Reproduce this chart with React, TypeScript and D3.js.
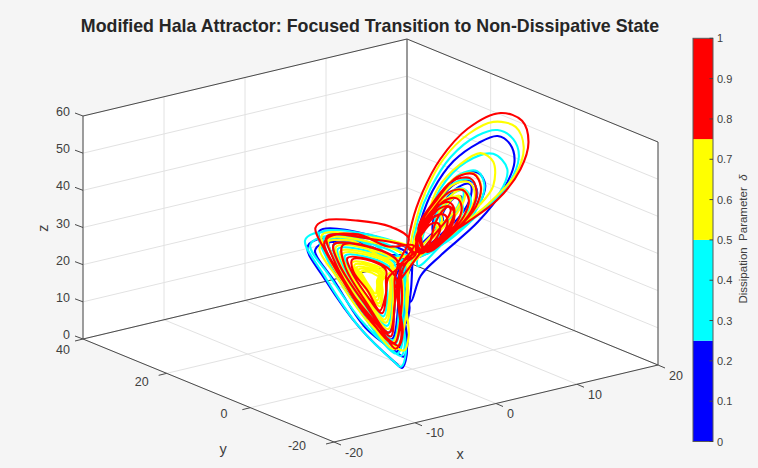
import React from "react";
import * as d3 from "d3";

type P3 = [number, number, number];

const xTicks = [-20, -10, 0, 10, 20];
const yTicks = [-20, 0, 20, 40];
const zTicks = [0, 10, 20, 30, 40, 50, 60];
const barTicks = [0, 0.1, 0.2, 0.3, 0.4, 0.5, 0.6, 0.7, 0.8, 0.9, 1];
const barBands = [0, 0.25, 0.5, 0.75, 1];
const bandColors = ["#0000ff", "#00ffff", "#ffff00", "#ff0000"];

// one stretch of the trajectory per colour
const blueTrace: P3[] = [
  [-1, -0.5, 13], [-0.6, -0.3, 18], [-1, -0.5, 21], [-0.5, -0.3, 17], [-0.8, -0.4, 14], [-0.2, -0.1, 22],
  [0.2, 0.1, 31.5], [1.4, 0.7, 38.9], [3.4, 1.7, 45.5], [6.9, 3.5, 50.8], [11, 5.5, 52.6], [14.2, 7.1, 52.1], [16.3, 8.2, 48.3], [17, 8.5, 43], [15.2, 7.6, 37.1], [10.9, 5.4, 31.5], [4.7, 2.4, 27], [1.4, 0.7, 24.1], [-0.3, -0.2, 18.4], [-1, -0.5, 22], [-1.6, -0.8, 28],
  [-4, -2, 33.5], [-10, -5, 42], [-16, -8, 46.8], [-17.5, -8.8, 45.8], [-14.5, -7.2, 35], [-8.7, -4.4, 17.5], [-2.8, -1.4, 3.8], [-1.7, -0.8, 1.6], [-0.9, -0.4, 4.5], [-1.3, -0.6, 15], [-0.9, -0.4, 25], [0.2, 0.1, 30],
  [-4.2, -2.1, 34], [-9.6, -4.8, 41], [-15, -7.5, 45], [-16.2, -8.1, 44], [-13, -6.5, 33.5], [-7.8, -3.9, 17], [-2.6, -1.3, 6.5], [-1.5, -0.8, 4.5], [-0.8, -0.4, 7.5], [-1.4, -0.7, 16.5], [-0.8, -0.4, 26], [0.4, 0.2, 30.5],
  [-7.5, -3.8, 41.9], [-15.5, -7.8, 48.8], [-14.3, -7.2, 41.1], [-8.8, -4.4, 23], [-2.7, -1.4, 6.7], [-1.4, -0.7, 15.7], [-1.4, -0.7, 25.5], [-0.9, -0.4, 31.9],
  [-7.4, -3.7, 39.5], [-13.9, -7, 45.2], [-12.9, -6.4, 38.9], [-8.4, -4.2, 24], [-3.5, -1.8, 10.7], [-2.4, -1.2, 18.1], [-2.4, -1.2, 26.1], [-0.5, -0.2, 30.5],
  [5.1, 2.6, 36], [5, 2.5, 37.8], [5.9, 3, 39.7], [7.1, 3.6, 40.8], [8.1, 4, 40.4], [8.2, 4.1, 38.7], [7.3, 3.6, 36.8], [6.1, 3, 35.7],
  [3.6, 1.8, 33.7], [3.5, 1.8, 37.2], [5.2, 2.6, 41.1], [7.7, 3.8, 43.3], [9.6, 4.8, 42.6], [9.7, 4.8, 39.3], [8, 4, 35.3], [5.5, 2.8, 33.1],
  [0.2, 0.1, 30.5], [1.3, 0.6, 36.9], [4, 2, 41.5], [7, 3.5, 44.5], [9.8, 4.9, 43.3], [10.8, 5.4, 39.5], [9.9, 5, 35.4], [7, 3.5, 31.6], [2.7, 1.4, 29.6],
  [0.2, 0.1, 30], [1.6, 0.8, 37.6], [4.5, 2.2, 42.7], [7.9, 4, 46.1], [10.9, 5.4, 44.7], [12.1, 6, 40.5], [11.1, 5.6, 35.9], [7.7, 3.8, 31.6], [3, 1.5, 29.4],
  [0.6, 0.3, 29.5], [-1.9, -1, 31.3], [-7.3, -3.6, 38.4], [-13.1, -6.6, 43.4], [-12.3, -6.2, 37.8], [-8.3, -4.2, 24.6], [-3.9, -2, 12.8], [-2.9, -1.4, 19.3], [-2.9, -1.4, 26.4],
  [-1, -0.5, 30], [0.5, 0.2, 30],
];

const cyanTrace: P3[] = [
  [0.5, 0.2, 30], [-2.4, -1.2, 31], [-6.1, -3, 37.8], [-10.7, -5.4, 44], [-16.4, -8.2, 48.8], [-17.9, -9, 48], [-14.7, -7.4, 36.2], [-9.1, -4.6, 18.6], [-3.1, -1.6, 4.4], [-1.9, -1, 2.1], [-1.1, -0.6, 5.5], [-1.6, -0.8, 15.6], [-1.1, -0.6, 25.2], [0, 0, 30.6],
  [-3.5, -1.8, 33], [-10.2, -5.1, 43], [-15.5, -7.8, 47], [-17, -8.5, 46], [-13.8, -6.9, 35.5], [-8.5, -4.2, 19.5], [-3.3, -1.6, 7.5], [-1.9, -1, 5], [-1.2, -0.6, 8], [-1.7, -0.8, 17], [-1, -0.5, 26], [0.2, 0.1, 31],
  [-7.5, -3.8, 41.9], [-15.5, -7.8, 48.2], [-14.3, -7.2, 40.6], [-8.8, -4.4, 22.4], [-2.5, -1.2, 6], [-1.2, -0.6, 15.2], [-1.4, -0.7, 25.5], [-1.4, -0.7, 31.6],
  [-7.4, -3.7, 40.7], [-14.7, -7.4, 46.4], [-13.6, -6.8, 39.6], [-8.6, -4.3, 23], [-3.1, -1.6, 8.7], [-1.9, -1, 16.9], [-1.9, -1, 25.8], [-1.9, -1, 31.3],
  [-7.4, -3.7, 39.5], [-13.9, -7, 45.2], [-12.9, -6.4, 38.9], [-8.4, -4.2, 24], [-3.2, -1.6, 10.2], [-2.2, -1.1, 18.1], [-2.2, -1.1, 26.1], [0, 0, 31],
  [0, 0, 32.4], [1, 0.5, 39.7], [3, 1.5, 46.3], [6.4, 3.2, 52.3], [10.8, 5.4, 54.7], [14.2, 7.1, 53.7], [16.8, 8.4, 49.3], [17.7, 8.8, 43.9], [15.8, 7.9, 37.5], [11.3, 5.6, 33.8], [5.9, 3, 30.6], [0.9, 0.4, 27.1],
  [1.9, 1, 35], [4.7, 2.4, 45], [8.9, 4.4, 49.1], [13.5, 6.8, 47.8], [15.8, 7.9, 42], [14.6, 7.3, 36.7], [10.5, 5.2, 33.1], [4.7, 2.4, 30.2],
  [4.6, 2.3, 36.2], [4.6, 2.3, 38], [5.5, 2.8, 39.9], [6.7, 3.4, 41], [7.7, 3.8, 40.7], [7.8, 3.9, 39], [6.9, 3.4, 37.1], [5.7, 2.8, 36],
  [3.8, 1.9, 35.2], [3.8, 1.9, 37.7], [5, 2.5, 40.6], [6.9, 3.4, 42.3], [8.4, 4.2, 41.8], [8.4, 4.2, 39.3], [7.2, 3.6, 36.4], [5.3, 2.6, 34.7],
  [0, 0, 30.5], [1, 0.5, 36], [3, 1.5, 39], [5.5, 2.8, 41.4], [7.6, 3.8, 40.4], [8.4, 4.2, 37.5], [7.8, 3.9, 34], [5.5, 2.8, 31.2], [2.1, 1, 29.8],
  [0.2, 0.1, 30.5], [1.3, 0.6, 36.4], [3.6, 1.8, 40.3], [6.2, 3.1, 43], [8.7, 4.4, 41.9], [9.7, 4.8, 38.5], [8.9, 4.4, 34.4], [6.2, 3.1, 31.3], [2.4, 1.2, 29.7],
  [0.1, 0, 30.5], [1.1, 0.6, 37.2], [3.9, 2, 41.9], [6.9, 3.4, 44.9], [9.7, 4.8, 43.8], [10.7, 5.4, 39.9], [9.9, 5, 35.2], [7, 3.5, 31.4], [2.8, 1.4, 29.7],
  [0, 0, 30.5], [1.5, 0.8, 37.8], [4.4, 2.2, 43], [7.8, 3.9, 46.5], [10.8, 5.4, 45.2], [12, 6, 40.6], [11, 5.5, 35.6], [7.6, 3.8, 31.4], [3, 1.5, 29.2],
  [0.4, 0.2, 29.6], [-2.5, -1.2, 31.1], [-7.3, -3.6, 38.4], [-13.1, -6.6, 43.4], [-12.3, -6.2, 37.8], [-8.3, -4.2, 24.6], [-3.9, -2, 12.8], [-2.9, -1.4, 19.3], [-2.9, -1.4, 26.4],
  [-3, -1.5, 30.8], [-7.3, -3.6, 37.2], [-12.4, -6.2, 41.6], [-11.6, -5.8, 36.7], [-8.1, -4, 25.1], [-4.2, -2.1, 14.8], [-3.4, -1.7, 20.5], [-3.4, -1.7, 26.8],
  [-3.9, -2, 30.4], [-7.2, -3.6, 35.4], [-11.2, -5.6, 38.9], [-10.6, -5.3, 35], [-7.8, -3.9, 26], [-4.8, -2.4, 17.8], [-4.1, -2, 22.3], [-4.1, -2, 27.2],
  [-1.5, -0.8, 30], [0.5, 0.2, 31],
];

const yellowTrace: P3[] = [
  [0.5, 0.2, 31], [-0.3, -0.2, 31.9], [0.5, 0.2, 39.3], [2.2, 1.1, 46.1], [5.2, 2.6, 52.7], [9.4, 4.7, 56.3], [13.5, 6.8, 56.4], [17.2, 8.6, 52.3], [18.5, 9.2, 45.9], [17.2, 8.6, 39.6], [12.7, 6.4, 35], [7.7, 3.8, 32.5], [3, 1.5, 30.7], [-0.6, -0.3, 28.3],
  [1.4, 0.7, 34.1], [4.2, 2.1, 45.4], [8, 4, 49.2], [11.3, 5.6, 49.7], [13.5, 6.8, 45.7], [13.5, 6.8, 39.2], [11.3, 5.6, 36], [6.4, 3.2, 32.9], [2.2, 1.1, 30.7],
  [-4.2, -2.1, 33], [-10, -5, 42], [-14.5, -7.2, 45], [-15.5, -7.8, 44], [-12.5, -6.2, 34], [-7.5, -3.8, 18.5], [-2.5, -1.2, 7.5], [-1.3, -0.6, 6], [-0.6, -0.3, 9.5], [-1, -0.5, 18], [-0.6, -0.3, 27], [0.5, 0.2, 31.5],
  [-7.5, -3.8, 41.3], [-15, -7.5, 47.4], [-13.9, -7, 40.2], [-8.7, -4.4, 23.2], [-2.9, -1.4, 7.5], [-1, -0.5, 15.2], [-0.8, -0.4, 25.5], [-1.4, -0.7, 31.6],
  [-7.4, -3.7, 39.9], [-14, -7, 45.5], [-13, -6.5, 39.2], [-8.4, -4.2, 23.8], [-3.3, -1.6, 9.7], [-1.7, -0.8, 17.4], [-1.7, -0.8, 26], [-2.7, -1.4, 31],
  [-7.3, -3.6, 37.8], [-12.7, -6.4, 42.5], [-12, -6, 37.2], [-8.2, -4.1, 24.8], [-4, -2, 13.8], [-3.2, -1.6, 19.9], [-3.2, -1.6, 26.6], [-3.3, -1.6, 30.7],
  [-7.2, -3.6, 36.6], [-12, -6, 40.7], [-11.2, -5.6, 36.1], [-8, -4, 25.4], [-4.4, -2.2, 15.8], [-3.6, -1.8, 21.1], [-3.6, -1.8, 27], [-3.6, -1.8, 30.6],
  [-7.2, -3.6, 36], [-11.6, -5.8, 39.8], [-10.9, -5.4, 35.6], [-7.9, -4, 25.7], [-4.6, -2.3, 16.8], [-3.9, -2, 21.7], [-3.9, -2, 27.1],
  [-5.8, -2.9, 29.5], [-7, -3.5, 31.3], [-8.5, -4.2, 32.6], [-8.2, -4.1, 31.2], [-7.2, -3.6, 27.9], [-6.1, -3, 24.9], [-5.9, -3, 26.6], [-5.9, -3, 28.4],
  [-5.5, -2.8, 29.6], [-7, -3.5, 31.9], [-8.9, -4.4, 33.5], [-8.6, -4.3, 31.8], [-7.3, -3.6, 27.6], [-6, -3, 23.9], [-5.6, -2.8, 26], [-5.6, -2.8, 28.2],
  [-5.2, -2.6, 29.8], [-7.1, -3.6, 32.5], [-9.2, -4.6, 34.4], [-8.9, -4.4, 32.3], [-7.4, -3.7, 27.3], [-5.8, -2.9, 22.9], [-5.4, -2.7, 25.4], [-5.4, -2.7, 28],
  [-5, -2.5, 29.9], [-7.1, -3.6, 33.1], [-9.6, -4.8, 35.3], [-9.2, -4.6, 32.9], [-7.5, -3.8, 27], [-5.6, -2.8, 21.9], [-5.1, -2.6, 24.8], [-5.1, -2.6, 27.8],
  [-4.7, -2.4, 30], [-7.1, -3.6, 33.7], [-10, -5, 36.2], [-9.6, -4.8, 33.4], [-7.6, -3.8, 26.8], [-5.4, -2.7, 20.9], [-4.9, -2.4, 24.2], [-4.9, -2.4, 27.7],
  [-0.6, -0.3, 30.2],
  [4.9, 2.4, 36.3], [4.8, 2.4, 38], [5.7, 2.8, 39.9], [6.9, 3.4, 41], [7.9, 4, 40.7], [8, 4, 39], [7.1, 3.6, 37.1], [5.9, 3, 36],
  [4.1, 2, 35.2], [4.1, 2, 37.7], [5.3, 2.6, 40.6], [7.2, 3.6, 42.3], [8.7, 4.4, 41.8], [8.7, 4.4, 39.3], [7.5, 3.8, 36.4], [5.6, 2.8, 34.7],
  [0.2, 0.1, 30.5], [0.9, 0.4, 34.8], [2.5, 1.2, 37.8], [4.5, 2.2, 39.9], [6.3, 3.2, 39], [7, 3.5, 36.5], [6.5, 3.2, 33.7], [4.5, 2.2, 31.5], [1.8, 0.9, 30.3],
  [0.2, 0.1, 30.5], [1.2, 0.6, 36], [3.1, 1.6, 39.2], [5.4, 2.7, 41.6], [7.5, 3.8, 40.6], [8.3, 4.2, 37.5], [7.7, 3.8, 34.3], [5.4, 2.7, 31.6], [2.1, 1, 30.2],
  [0, 0, 30.5], [1.2, 0.6, 36.2], [3.5, 1.8, 40.3], [6.1, 3, 43], [8.5, 4.2, 41.9], [9.5, 4.8, 38.5], [8.7, 4.4, 34.8], [6.1, 3, 31.8], [2.4, 1.2, 30.2],
  [-0.1, 0, 30.5], [1.2, 0.6, 36.9], [3.7, 1.8, 41.5], [6.7, 3.4, 44.5], [9.4, 4.7, 43.3], [10.4, 5.2, 39.5], [9.6, 4.8, 35.4], [6.7, 3.4, 31.9], [2.7, 1.4, 30.1],
  [0, 0, 30.5], [1.2, 0.6, 37.6], [4, 2, 42.9], [7.3, 3.6, 46.3], [10.3, 5.2, 44.9], [11.5, 5.8, 40.5], [10.6, 5.3, 35.7], [7.3, 3.6, 31.9], [3, 1.5, 30.1],
  [1, 0.5, 30], [0.5, 0.2, 31],
];

const redTrace: P3[] = [
  [0.5, 0.2, 31], [-0.6, -0.3, 32.9], [0, 0, 39.7], [1.7, 0.8, 46.5], [4.7, 2.4, 53], [9.2, 4.6, 57.8], [14.7, 7.4, 57.9], [18.3, 9.2, 53.1], [19.3, 9.6, 46.7], [18, 9, 40.3], [14.2, 7.1, 35], [9.2, 4.6, 32.7], [4.2, 2.1, 31.4], [0.2, 0.1, 30.9], [-2.4, -1.2, 30],
  [-0.6, -0.3, 35.6], [-3.6, -1.8, 41], [-9.1, -4.6, 46.8], [-14.7, -7.4, 51], [-16.1, -8, 50], [-14.7, -7.4, 43.4], [-10.7, -5.4, 29.7], [-5.3, -2.6, 14.9], [-2.8, -1.4, 7.6], [-1.9, -1, 9.6], [-2.4, -1.2, 20.8], [-1.9, -1, 29.3], [0.2, 0.1, 33.1],
  [-4, -2, 36], [-9, -4.5, 43], [-13.5, -6.8, 46], [-14.7, -7.4, 45], [-12.5, -6.2, 36], [-8, -4, 21], [-3.5, -1.8, 10], [-2.2, -1.1, 8], [-1.6, -0.8, 11], [-2.2, -1.1, 20], [-1.6, -0.8, 28], [0, 0, 32],
  [-7.4, -3.7, 40.7], [-14.2, -7.1, 46.4], [-13.2, -6.6, 39.8], [-8.6, -4.3, 23.5], [-3.1, -1.6, 9.2], [-1.9, -1, 16.9], [-1.9, -1, 25.8], [-2.5, -1.2, 31.1],
  [-7.3, -3.6, 38.4], [-13.1, -6.6, 43.4], [-12.3, -6.2, 37.8], [-8.3, -4.2, 24.6], [-3.9, -2, 12.8], [-2.9, -1.4, 19.3], [-2.9, -1.4, 26.4], [-2.5, -1.2, 31.1],
  [-6.5, -3.2, 37.5], [-11.6, -5.8, 42], [-11.2, -5.6, 36], [-7.6, -3.8, 23.5], [-3.6, -1.8, 11.5], [-3, -1.5, 19], [-2.6, -1.3, 26], [-4.1, -2, 30.3],
  [-7.2, -3.6, 34.9], [-10.8, -5.4, 38], [-10.3, -5.2, 34.5], [-7.8, -3.9, 26.2], [-5, -2.5, 18.8], [-4.4, -2.2, 22.9], [-4.4, -2.2, 27.4], [-4.4, -2.2, 30],
  [-6.8, -3.4, 34.2], [-10, -5, 37], [-9.8, -4.9, 33.6], [-7.5, -3.8, 26.8], [-5.4, -2.7, 19.8], [-4.4, -2.2, 23.6], [-4, -2, 27.6],
  [-1, -0.5, 29.5], [0.5, 0.2, 30.5],
  [0.6, 0.3, 33.3], [1.7, 0.8, 35.4], [3, 1.5, 36.7], [4.2, 2.1, 36.2], [4.7, 2.4, 34.5], [4.3, 2.2, 32.7], [3, 1.5, 31.1], [1.2, 0.6, 30.3],
  [0.7, 0.4, 34], [2.1, 1, 36.6], [3.8, 1.9, 38.3], [5.3, 2.6, 37.6], [5.9, 3, 35.5], [5.4, 2.7, 33.2], [3.8, 1.9, 31.3], [1.5, 0.8, 30.3],
  [0.8, 0.4, 34.8], [2.5, 1.2, 37.8], [4.5, 2.2, 39.9], [6.3, 3.2, 39], [7, 3.5, 36.5], [6.5, 3.2, 33.7], [4.5, 2.2, 31.5], [1.8, 0.9, 30.3],
  [0.6, 0.3, 34.4], [2, 1, 38.4], [4.1, 2, 40.8], [6.1, 3, 40.4], [7, 3.5, 37.6], [6.3, 3.2, 34.2], [4.1, 2, 31.6], [1.4, 0.7, 30.1],
  [1, 0.5, 36], [2.9, 1.4, 39], [5.3, 2.6, 41.4], [7.4, 3.7, 40.4], [8.2, 4.1, 37.5], [7.6, 3.8, 34.3], [5.3, 2.6, 31.6], [2.1, 1, 30.2],
  [1.1, 0.6, 36.2], [3.4, 1.7, 40.3], [6, 3, 43], [8.4, 4.2, 41.9], [9.4, 4.7, 38.5], [8.6, 4.3, 34.8], [6, 3, 31.8], [2.4, 1.2, 30.2],
  [1, 0.5, 37.2], [3.5, 1.8, 42.2], [6.6, 3.3, 45.6], [9.6, 4.8, 44.2], [10.7, 5.4, 40], [9.8, 4.9, 35.2], [6.6, 3.3, 31.6], [2.4, 1.2, 29.8],
  [1.4, 0.7, 37.6], [4.2, 2.1, 42.7], [7.5, 3.8, 46.1], [10.3, 5.2, 44.7], [11.4, 5.7, 40.5], [10.6, 5.3, 35.9], [7.5, 3.8, 32.1], [3, 1.5, 30.1],
  [3.4, 1.7, 34.4], [4, 2, 37], [5, 2.5, 38.8], [6, 3, 39.2], [6.4, 3.2, 38], [5.6, 2.8, 35.8], [4.2, 2.1, 34], [2.6, 1.3, 32],
  [-1, -0.5, 27], [-3, -1.5, 24],
];

const traces = [blueTrace, cyanTrace, yellowTrace, redTrace];

// box corners on screen, from the reference
const u = d3.scaleLinear().domain([-20, 20]).range([0, 1]);
const v = d3.scaleLinear().domain([40, -20]).range([0, 1]);
const w = d3.scaleLinear().domain([0, 60]).range([0, 1]);

const project = ([x, y, z]: P3): [number, number] => [
  83 + 324 * u(x) + 251 * v(y),
  339 - 77 * u(x) + 103 * v(y) - 223 * w(z),
];

const font = "'Liberation Sans', Arial, sans-serif";
const ink = "#404040";
const gridColor = "#e2e2e2";
const boxColor = "#4a4a4a";

const pathOf = (pts: P3[], closed = false) => {
  const s = pts.map((p) => project(p).join(",")).join("L");
  return "M" + s + (closed ? "Z" : "");
};

const traceLine = d3
  .line<P3>()
  .x((d) => project(d)[0])
  .y((d) => project(d)[1])
  .curve(d3.curveCatmullRom.alpha(0.5));

const barY = d3.scaleLinear().domain([0, 1]).range([441.5, 38.3]);
const yLabelDx = d3.scaleLinear().domain([40, -20]).range([-13, -28]);
const yLabelDy = d3.scaleLinear().domain([40, -20]).range([11, 4]);

const App = () => {
  const [xMin, xMax] = [-20, 20];
  const [yFar, yNear] = [40, -20];
  const [zMin, zMax] = [0, 60];

  const walls: P3[][] = [
    [[xMin, yFar, zMin], [xMax, yFar, zMin], [xMax, yNear, zMin], [xMin, yNear, zMin]],
    [[xMin, yFar, zMin], [xMax, yFar, zMin], [xMax, yFar, zMax], [xMin, yFar, zMax]],
    [[xMax, yFar, zMin], [xMax, yNear, zMin], [xMax, yNear, zMax], [xMax, yFar, zMax]],
  ];

  const gridLines: P3[][] = [
    ...xTicks.map((t): P3[] => [[t, yNear, zMin], [t, yFar, zMin], [t, yFar, zMax]]),
    ...yTicks.map((t): P3[] => [[xMin, t, zMin], [xMax, t, zMin], [xMax, t, zMax]]),
    ...zTicks.map((t): P3[] => [[xMin, yFar, t], [xMax, yFar, t], [xMax, yNear, t]]),
  ];

  const boxEdges: P3[][] = [
    [[xMin, yFar, zMin], [xMin, yFar, zMax], [xMax, yFar, zMax], [xMax, yNear, zMax], [xMax, yNear, zMin]],
    [[xMin, yFar, zMin], [xMin, yNear, zMin], [xMax, yNear, zMin]],
    [[xMin, yFar, zMin], [xMax, yFar, zMin], [xMax, yNear, zMin]],
    [[xMax, yFar, zMin], [xMax, yFar, zMax]],
  ];

  return (
    <svg
      width={758}
      height={468}
      style={{ position: "absolute", left: 0, top: 0, background: "#f5f5f5" }}
      fontFamily={font}
    >
      <text x={370} y={32} textAnchor="middle" fontSize={17.8} fontWeight="bold" fill="#262626">
        Modified Hala Attractor: Focused Transition to Non-Dissipative State
      </text>

      {walls.map((wall, i) => (
        <path key={i} d={pathOf(wall, true)} fill="#ffffff" />
      ))}
      {gridLines.map((g, i) => (
        <path key={i} d={pathOf(g)} fill="none" stroke={gridColor} strokeWidth={1} />
      ))}
      {boxEdges.map((e, i) => (
        <path key={i} d={pathOf(e)} fill="none" stroke={boxColor} strokeWidth={1} />
      ))}

      {traces.map((t, i) => (
        <path
          key={i}
          d={traceLine(t) ?? ""}
          fill="none"
          stroke={bandColors[i]}
          strokeWidth={2.1}
          strokeLinejoin="round"
        />
      ))}

      {/* x axis runs along the front right edge */}
      {xTicks.map((t) => {
        const [px, py] = project([t, yNear, zMin]);
        return (
          <g key={t}>
            <line x1={px} y1={py} x2={px + 7} y2={py + 3} stroke={boxColor} />
            <text x={px + 11} y={py + 10.5} fontSize={12.5} fill={ink} dominantBaseline="central">
              {t}
            </text>
          </g>
        );
      })}
      {yTicks.map((t) => {
        const [px, py] = project([xMin, t, zMin]);
        return (
          <g key={t}>
            <line x1={px} y1={py} x2={px - 8} y2={py + 2} stroke={boxColor} />
            <text
              x={px + yLabelDx(t)}
              y={py + yLabelDy(t)}
              fontSize={12.5}
              fill={ink}
              textAnchor="end"
              dominantBaseline="central"
            >
              {t}
            </text>
          </g>
        );
      })}
      {zTicks.map((t) => {
        const [px, py] = project([xMin, yFar, t]);
        return (
          <g key={t}>
            <line x1={px} y1={py} x2={px - 8} y2={py - 3} stroke={boxColor} />
            <text x={px - 13} y={py - 4} fontSize={12.5} fill={ink} textAnchor="end" dominantBaseline="central">
              {t}
            </text>
          </g>
        );
      })}
      <text x={460} y={454} fontSize={14.5} fill={ink} textAnchor="middle" dominantBaseline="central">x</text>
      <text x={223} y={449} fontSize={14.5} fill={ink} textAnchor="middle" dominantBaseline="central">y</text>
      <text
        x={43}
        y={228}
        fontSize={14.5}
        fill={ink}
        textAnchor="middle"
        dominantBaseline="central"
        transform="rotate(-90 43 228)"
      >
        z
      </text>

      {/* colorbar */}
      {bandColors.map((c, i) => (
        <rect
          key={c}
          x={693}
          y={barY(barBands[i + 1])}
          width={20}
          height={barY(barBands[i]) - barY(barBands[i + 1])}
          fill={c}
        />
      ))}
      <rect x={693} y={barY(1)} width={20} height={barY(0) - barY(1)} fill="none" stroke="#5a5a5a" strokeWidth={1} />
      {barTicks.map((t) => (
        <g key={t}>
          <line x1={709.5} x2={713} y1={barY(t)} y2={barY(t)} stroke="#404040" />
          <text x={717} y={barY(t)} fontSize={11} fill={ink} dominantBaseline="central">
            {t}
          </text>
        </g>
      ))}
      <text
        x={743}
        y={239}
        fontSize={11.5}
        fill={ink}
        textAnchor="middle"
        dominantBaseline="central"
        transform="rotate(-90 743 239)"
        xmlSpace="preserve"
      >
        {"Dissipation  Parameter  "}
        <tspan fontStyle="italic">δ</tspan>
      </text>
    </svg>
  );
};

export default App;
